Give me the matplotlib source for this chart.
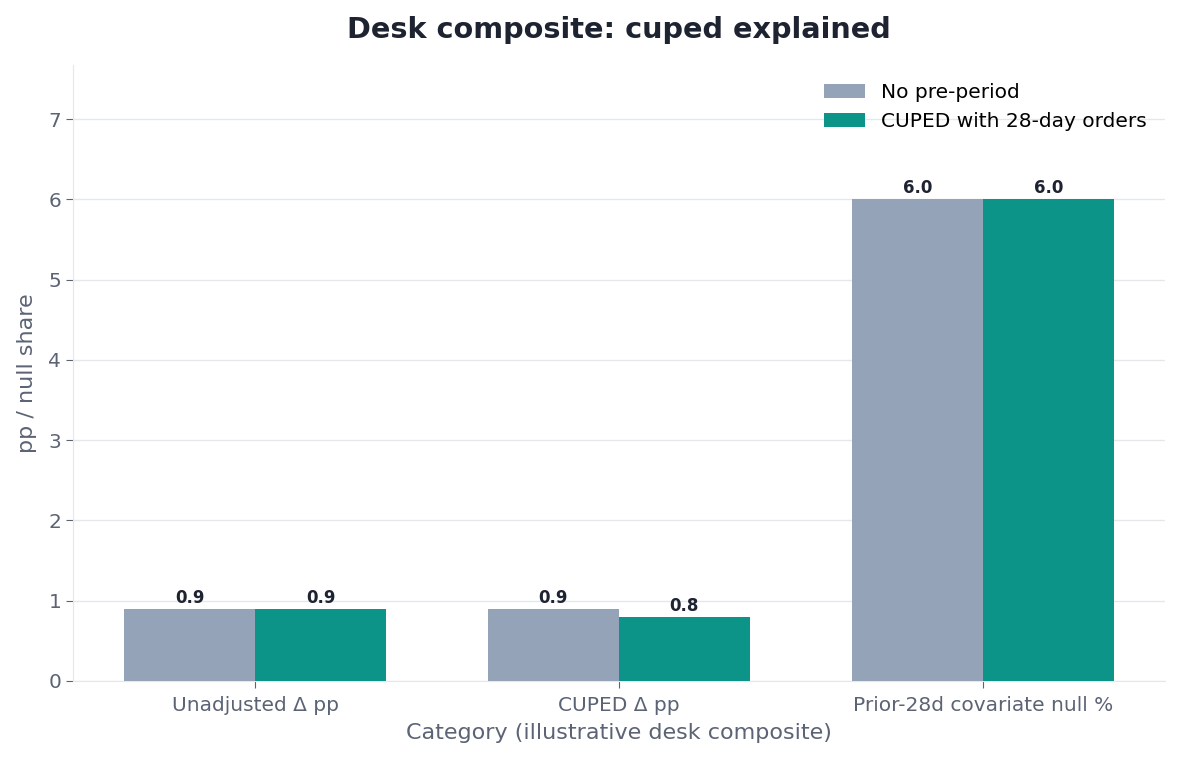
import numpy as np
import matplotlib.pyplot as plt

categories = ["Unadjusted \u0394 pp", "CUPED \u0394 pp", "Prior-28d covariate null %"]
series_names = ["No pre-period", "CUPED with 28-day orders"]
no_pre = [0.9, 0.9, 6.0]
cuped = [0.9, 0.8, 6.0]

colors = ["#94A3B8", "#0D9488"]
text_dark = "#1E2331"
tick_gray = "#5B6374"
line_gray = "#E2E8F0"


def main():
    fig, ax = plt.subplots(figsize=(11.8, 7.6), dpi=100)
    x = np.arange(len(categories))
    w = 0.36

    bars1 = ax.bar(x - w / 2, no_pre, width=w, color=colors[0], label=series_names[0], zorder=3)
    bars2 = ax.bar(x + w / 2, cuped, width=w, color=colors[1], label=series_names[1], zorder=3)

    for bars in (bars1, bars2):
        for b in bars:
            ax.annotate(f"{b.get_height():.1f}", (b.get_x() + b.get_width() / 2, b.get_height()),
                        xytext=(0, 1.5), textcoords="offset points", ha="center", va="bottom",
                        fontsize=12, fontweight="bold", color=text_dark)

    ax.set_xticks(x)
    ax.set_xticklabels(categories)
    ax.set_xlim(-0.5, 2.5)
    ax.set_ylim(0, max(no_pre + cuped) * 1.28)
    ax.set_yticks(range(0, 8))

    ax.set_title("Desk composite: cuped explained", fontsize=20.7, fontweight="bold", color=text_dark, pad=19)
    ax.set_xlabel("Category (illustrative desk composite)", fontsize=16, color=tick_gray, labelpad=6)
    ax.set_ylabel("pp / null share", fontsize=16, color=tick_gray, labelpad=8)

    ax.grid(axis="y", color="#E5E7EB", linewidth=1, zorder=0)
    for s in ("top", "right"):
        ax.spines[s].set_visible(False)
    for s in ("left", "bottom"):
        ax.spines[s].set_color(line_gray)
    ax.tick_params(axis="both", colors=tick_gray, labelsize=14.5, length=5)
    ax.tick_params(axis="x", pad=5.5)

    ax.legend(frameon=False, fontsize=14.5, loc="upper right", handlelength=2.0)

    fig.subplots_adjust(left=0.062, right=0.987, top=0.915, bottom=0.104)
    fig.savefig("out.png")


if __name__ == "__main__":
    main()
